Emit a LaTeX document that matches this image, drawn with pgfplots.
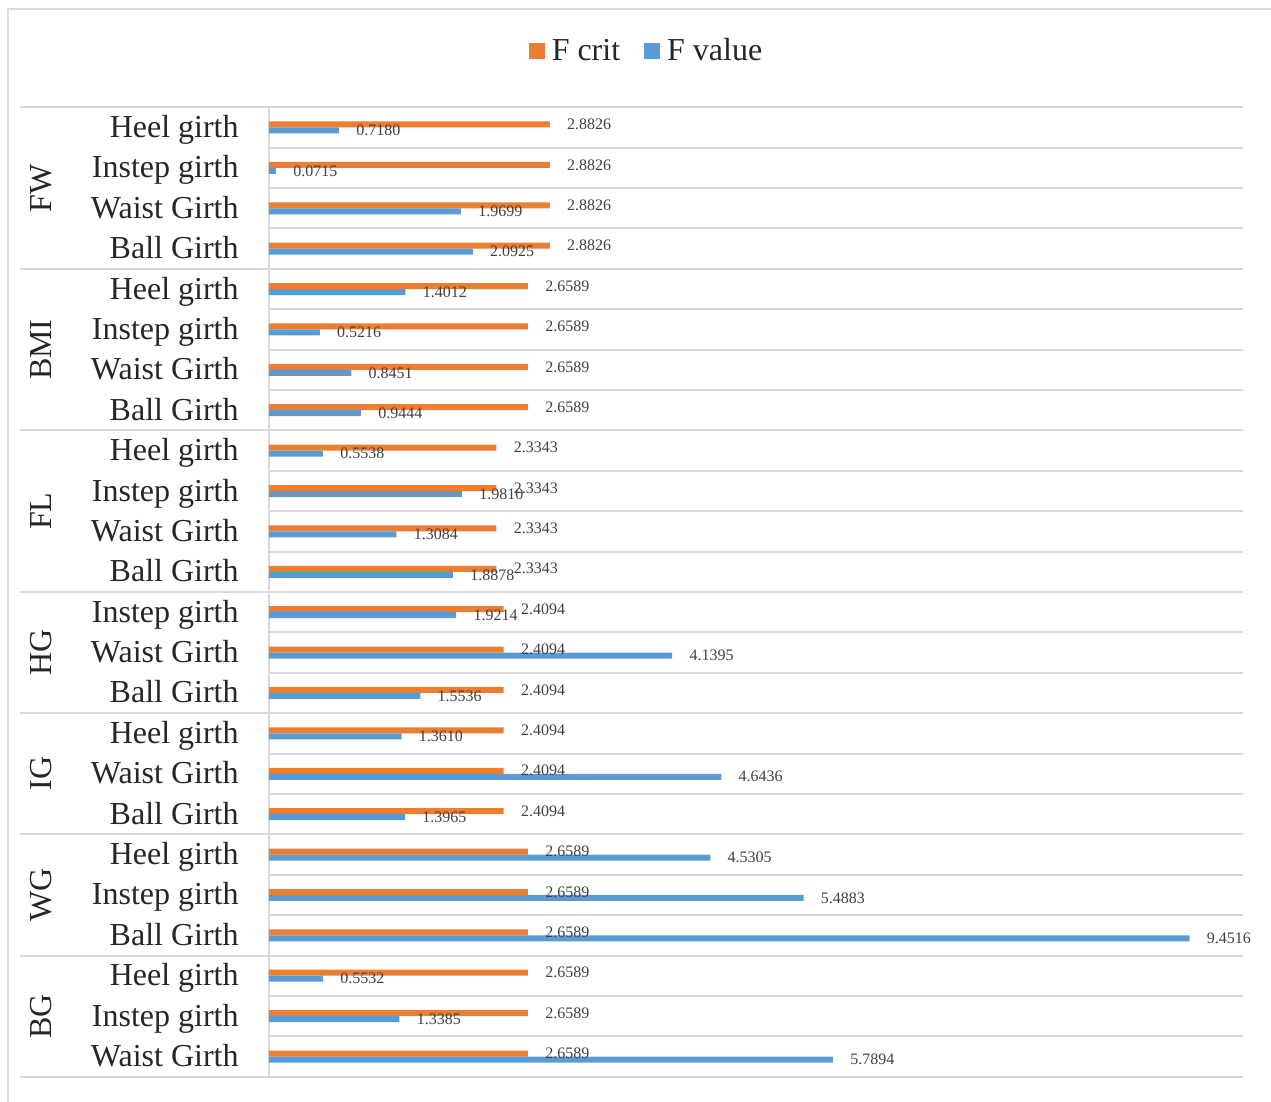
\documentclass[border=0pt]{standalone}
\usepackage{fontspec}
\setmainfont{Liberation Serif}
\usepackage{pgfplots}
\usepackage{pgfplotstable}
\pgfplotsset{compat=1.18}
\definecolor{critorange}{HTML}{ED7D31}
\definecolor{valblue}{HTML}{5B9BD5}
\definecolor{gridgray}{HTML}{D9D9D9}
\definecolor{txtdark}{HTML}{262626}
\definecolor{numgray}{HTML}{404040}

% row position (top row = 23), F crit, F value
\pgfplotstableread{
y  crit   fval
23 2.8826 0.7180
22 2.8826 0.0715
21 2.8826 1.9699
20 2.8826 2.0925
19 2.6589 1.4012
18 2.6589 0.5216
17 2.6589 0.8451
16 2.6589 0.9444
15 2.3343 0.5538
14 2.3343 1.9810
13 2.3343 1.3084
12 2.3343 1.8878
11 2.4094 1.9214
10 2.4094 4.1395
9  2.4094 1.5536
8  2.4094 1.3610
7  2.4094 4.6436
6  2.4094 1.3965
5  2.6589 4.5305
4  2.6589 5.4883
3  2.6589 9.4516
2  2.6589 0.5532
1  2.6589 1.3385
0  2.6589 5.7894
}\anovatable

\begin{document}
\begin{tikzpicture}
\useasboundingbox (0,0) rectangle (635.5pt,-551pt);
% chart frame (left and top edges)
\draw[gridgray, line width=1pt] (3.75pt,-551pt) -- (3.75pt,-4.75pt) -- (635.5pt,-4.75pt);
\begin{axis}[
  at={(134.5pt,-538.35pt)}, anchor=south west,
  scale only axis, width=487pt, height=484.7pt,
  xbar, bar width=3pt,
  xmin=0, xmax=10, ymin=-0.5, ymax=23.5,
  axis x line=none, axis y line*=left,
  y axis line style={gridgray, line width=1pt, -},
  ytick={0,...,23},
  % labels listed from the bottom row (0) up to the top row (23)
  yticklabels={Waist Girth, Instep girth, Heel girth,   % BG
               Ball Girth, Instep girth, Heel girth,    % WG
               Ball Girth, Waist Girth, Heel girth,     % IG
               Ball Girth, Waist Girth, Instep girth,   % HG
               Ball Girth, Waist Girth, Instep girth, Heel girth, % FL
               Ball Girth, Waist Girth, Instep girth, Heel girth, % BMI
               Ball Girth, Waist Girth, Instep girth, Heel girth}, % FW
  major tick length=0pt, minor tick length=0pt,
  minor ytick={-0.5,0.5,...,23.5},
  yminorgrids=true,
  minor grid style={gridgray, line width=1pt},
  yticklabel style={font=\fontsize{16}{19}\selectfont, text=txtdark,
    anchor=base east, inner sep=0pt, xshift=-15pt, yshift=-5pt},
  clip=false,
  point meta=x,
  nodes near coords,
  every node near coord/.append style={font=\fontsize{8}{9.6}\selectfont,
    text=numgray, anchor=west, inner sep=0pt, xshift=8.5pt,
    /pgf/number format/fixed, /pgf/number format/fixed zerofill,
    /pgf/number format/precision=4, /pgf/number format/assume math mode=true},
  legend columns=2,
  legend style={at={(0.3866,1.0578)}, anchor=center, draw=none, fill=none,
    font=\fontsize{16}{19}\selectfont, text=txtdark, inner sep=0pt,
    nodes={inner sep=0pt}, column sep=3.5pt,
    /tikz/every even column/.append style={column sep=12pt}},
]
\addplot[fill=critorange, draw=none, bar shift=1.5pt,
  legend image code/.code={\fill[critorange] (0pt,-4pt) rectangle (8pt,4pt);}]
  table[x=crit, y=y] {\anovatable};
\addplot[fill=valblue, draw=none, bar shift=-1.5pt,
  legend image code/.code={\fill[valblue] (0pt,-4pt) rectangle (8pt,4pt);}]
  table[x=fval, y=y] {\anovatable};
\legend{F crit, F value}

% group separators reaching into the label column
\pgfplotsinvokeforeach{23.5,19.5,15.5,11.5,8.5,5.5,2.5,-0.5}{
  \draw[gridgray, line width=1pt] (axis cs:-2.556,#1) -- (axis cs:0,#1);
}
% group names
\node[rotate=90, font=\fontsize{16}{19}\selectfont, text=txtdark, inner sep=0pt] at (axis cs:-2.341,21.5) {FW};
\node[rotate=90, font=\fontsize{16}{19}\selectfont, text=txtdark, inner sep=0pt] at (axis cs:-2.341,17.5) {BMI};
\node[rotate=90, font=\fontsize{16}{19}\selectfont, text=txtdark, inner sep=0pt] at (axis cs:-2.341,13.5) {FL};
\node[rotate=90, font=\fontsize{16}{19}\selectfont, text=txtdark, inner sep=0pt] at (axis cs:-2.341,10) {HG};
\node[rotate=90, font=\fontsize{16}{19}\selectfont, text=txtdark, inner sep=0pt] at (axis cs:-2.341,7) {IG};
\node[rotate=90, font=\fontsize{16}{19}\selectfont, text=txtdark, inner sep=0pt] at (axis cs:-2.341,4) {WG};
\node[rotate=90, font=\fontsize{16}{19}\selectfont, text=txtdark, inner sep=0pt] at (axis cs:-2.341,1) {BG};
\end{axis}
\end{tikzpicture}
\end{document}
